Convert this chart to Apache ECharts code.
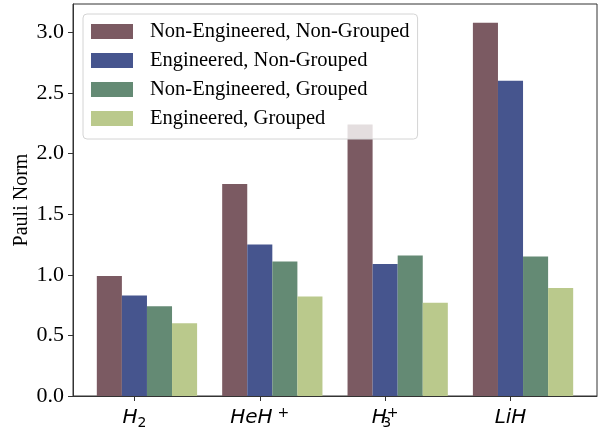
<!DOCTYPE html>
<html><head><meta charset="utf-8">
<script src="https://cdn.jsdelivr.net/npm/echarts@6/dist/echarts.min.js"></script>
<style>html,body{margin:0;padding:0;background:#fff}#c{width:600px;height:427px}</style>
</head><body><div id="c"></div>
<script>
const categories = ['H2', 'HeH+', 'H3+', 'LiH'];
const categoryLabels = ['{i|H}{sub|2}', '{i|HeH}{gap|}{sup|+}', '{i|H}{sub0|3}{sup|+}', '{i|LiH}'];
const seriesNames = ['Non-Engineered, Non-Grouped', 'Engineered, Non-Grouped', 'Non-Engineered, Grouped', 'Engineered, Grouped'];
const nonEngNonGrouped = [0.99, 1.75, 2.24, 3.08];
const engNonGrouped = [0.83, 1.25, 1.09, 2.60];
const nonEngGrouped = [0.74, 1.11, 1.16, 1.15];
const engGrouped = [0.60, 0.82, 0.77, 0.89];
const yTicks = [0, 0.5, 1.0, 1.5, 2.0, 2.5, 3.0];
const xTicks = [0, 1, 2, 3];
const colors = ['#7b5a62', '#46558e', '#648a74', '#bac98c'];

const allValues = [nonEngNonGrouped, engNonGrouped, nonEngGrouped, engGrouped];

const chart = echarts.init(document.getElementById('c'), null, {renderer: 'canvas'});
const series = [{
  name: '_pad', type: 'bar', barWidth: '20%', barGap: '0%',
  data: categories.map((c, i) => [i, '-']), silent: true
}].concat(allValues.map((vals, k) => ({
  name: seriesNames[k], type: 'bar', barWidth: '20%', barGap: '0%',
  itemStyle: {color: colors[k]},
  data: categories.map((c, i) => [i, vals[i]])
})));

chart.setOption({
  animation: false,
  grid: {left: 73, top: 4, right: 3, bottom: 31, show: true, borderColor: '#333', borderWidth: 1,
         containLabel: false, outerBoundsMode: 'none'},
  legend: {
    data: seriesNames, orient: 'vertical', left: 83, top: 14,
    itemWidth: 42, itemHeight: 15, itemGap: 8,
    padding: [7, 8, 10, 8],
    backgroundColor: 'rgba(255,255,255,0.8)', borderColor: '#d4d4d4', borderWidth: 1, borderRadius: 4,
    textStyle: {fontFamily: 'Liberation Serif', fontSize: 20.5, color: '#000', padding: [0, 0, 0, 12]},
    icon: 'rect'
  },
  xAxis: {
    type: 'value', min: -0.49, max: 3.69,
    axisLine: {show: true, onZero: false, lineStyle: {color: '#333'}},
    axisTick: {show: true, customValues: xTicks, length: 5, lineStyle: {color: '#333'}},
    splitLine: {show: false},
    axisLabel: {
      customValues: xTicks, margin: 10,
      formatter: v => categoryLabels[Math.round(v)],
      rich: {
        i: {fontFamily: 'DejaVu Sans', fontStyle: 'italic', fontSize: 20, color: '#000', lineHeight: 24},
        sub: {fontFamily: 'DejaVu Sans', fontSize: 14, color: '#000', lineHeight: 14, verticalAlign: 'bottom'},
        sub0: {fontFamily: 'DejaVu Sans', fontSize: 14, color: '#000', lineHeight: 14, verticalAlign: 'bottom', width: 0},
        sup: {fontFamily: 'DejaVu Sans', fontSize: 14, color: '#000', lineHeight: 14, verticalAlign: 'top'},
        gap: {width: 5}
      }
    }
  },
  yAxis: {
    type: 'value', min: 0, max: 3.234,
    name: 'Pauli Norm', nameLocation: 'middle', nameGap: 41, nameMoveOverlap: false,
    nameTextStyle: {fontFamily: 'Liberation Serif', fontSize: 20, color: '#000'},
    axisLine: {show: true, onZero: false, lineStyle: {color: '#333'}},
    axisTick: {show: true, customValues: yTicks, length: 5, lineStyle: {color: '#333'}},
    splitLine: {show: false},
    axisLabel: {
      customValues: yTicks, margin: 9,
      formatter: v => v.toFixed(1),
      fontFamily: 'Liberation Serif', fontSize: 22, color: '#000'
    }
  },
  series: series
});
</script></body></html>
